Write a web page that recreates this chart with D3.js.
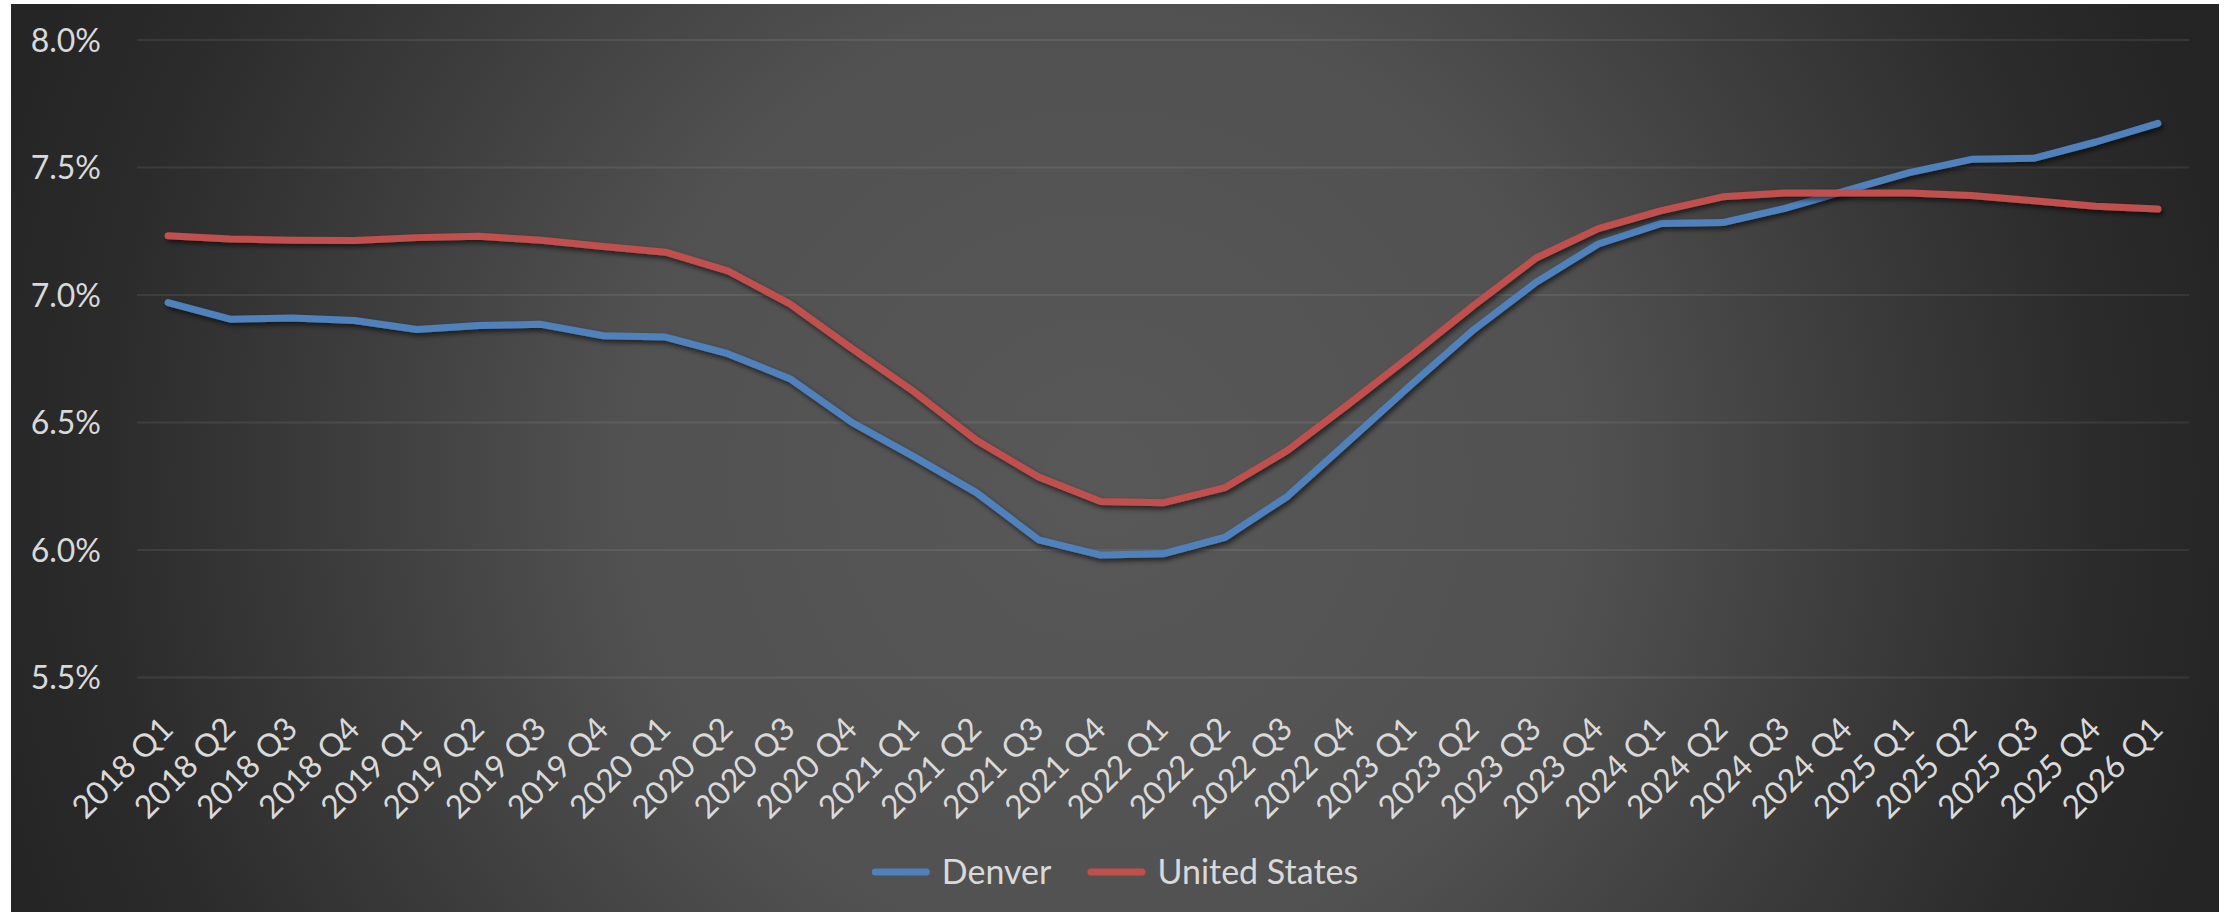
<!DOCTYPE html>
<html>
<head>
<meta charset="utf-8">
<script src="https://cdn.jsdelivr.net/npm/d3@7/dist/d3.min.js"></script>
<style>
  html, body { margin: 0; padding: 0; background: #ffffff; }
  svg { display: block; }
  text { font-family: Lato, "Open Sans", sans-serif; fill: #d9d9d9; }
</style>
</head>
<body>
<svg id="chart" width="2234" height="912"></svg>
<script>
const categories = [
  "2018 Q1","2018 Q2","2018 Q3","2018 Q4",
  "2019 Q1","2019 Q2","2019 Q3","2019 Q4",
  "2020 Q1","2020 Q2","2020 Q3","2020 Q4",
  "2021 Q1","2021 Q2","2021 Q3","2021 Q4",
  "2022 Q1","2022 Q2","2022 Q3","2022 Q4",
  "2023 Q1","2023 Q2","2023 Q3","2023 Q4",
  "2024 Q1","2024 Q2","2024 Q3","2024 Q4",
  "2025 Q1","2025 Q2","2025 Q3","2025 Q4",
  "2026 Q1"
];
const denver = [
  6.97, 6.905, 6.91, 6.90,
  6.865, 6.88, 6.885, 6.84,
  6.835, 6.77, 6.672, 6.50,
  6.365, 6.225, 6.04, 5.98,
  5.985, 6.05, 6.21, 6.43,
  6.65, 6.865, 7.05, 7.20,
  7.28, 7.284, 7.34, 7.41,
  7.48, 7.532, 7.536, 7.60,
  7.673
];
const unitedStates = [
  7.232, 7.22, 7.215, 7.214,
  7.225, 7.23, 7.215, 7.19,
  7.168, 7.095, 6.965, 6.79,
  6.62, 6.43, 6.286, 6.19,
  6.185, 6.245, 6.39, 6.575,
  6.765, 6.96, 7.145, 7.26,
  7.33, 7.385, 7.40, 7.40,
  7.40, 7.39, 7.37, 7.348,
  7.337
];
const yTicks = [5.5, 6.0, 6.5, 7.0, 7.5, 8.0];
const seriesNames = ["Denver", "United States"];
const seriesColors = ["#4F81BD", "#C0504D"];

const svg = d3.select("#chart");
const defs = svg.append("defs");

// background radial gradient
const grad = defs.append("radialGradient")
  .attr("id", "bg").attr("gradientUnits", "userSpaceOnUse")
  .attr("cx", 1100).attr("cy", 480).attr("r", 1150);
[[0, "#585858"], [0.42, "#515151"], [0.7, "#393939"], [0.87, "#2b2b2b"], [1, "#252525"]]
  .forEach(([o, c]) => grad.append("stop").attr("offset", o).attr("stop-color", c));

const shadow = defs.append("filter").attr("id", "shadow")
  .attr("x", "-5%").attr("y", "-20%").attr("width", "110%").attr("height", "140%");
shadow.append("feDropShadow").attr("dx", 2).attr("dy", 3).attr("stdDeviation", 2.5)
  .attr("flood-color", "#000").attr("flood-opacity", 0.6);

svg.append("rect").attr("x", 11).attr("y", 4).attr("width", 2208).attr("height", 908)
  .attr("fill", "url(#bg)");

const x = d3.scalePoint().domain(categories).range([137, 2189]).padding(0.5);
const y = d3.scaleLinear().domain([5.5, 8.0]).range([677.5, 40]);

// gridlines
svg.append("g").selectAll("line").data(yTicks).join("line")
  .attr("x1", 137).attr("x2", 2189)
  .attr("y1", d => y(d)).attr("y2", d => y(d))
  .attr("stroke", "rgba(255,255,255,0.08)").attr("stroke-width", 2);

// y labels
svg.append("g").selectAll("text").data(yTicks).join("text")
  .attr("x", 101).attr("y", d => y(d)).attr("dy", "0.36em")
  .attr("text-anchor", "end").attr("font-size", 32)
  .text(d => d3.format(".1f")(d) + "%");

// x labels
svg.append("g").selectAll("text").data(categories).join("text")
  .attr("text-anchor", "end").attr("font-size", 32)
  .attr("transform", d => `translate(${x(d) + 7},${731}) rotate(-45)`)
  .text(d => d);

// lines
const line = d3.line().x((d, i) => x(categories[i])).y(d => y(d));
const seriesData = [denver, unitedStates];
svg.append("g").selectAll("path").data(seriesData).join("path")
  .attr("d", d => line(d))
  .attr("fill", "none")
  .attr("stroke", (d, i) => seriesColors[i])
  .attr("stroke-width", 7)
  .attr("stroke-linecap", "round")
  .attr("stroke-linejoin", "round")
  .attr("filter", "url(#shadow)");

// legend
const legend = svg.append("g");
const items = legend.selectAll("g").data(seriesNames).join("g");
items.append("line").attr("x1", 3.5).attr("x2", 54.5).attr("y1", 0).attr("y2", 0)
  .attr("stroke", (d, i) => seriesColors[i]).attr("stroke-width", 7).attr("stroke-linecap", "round");
items.append("text").attr("x", 70).attr("y", 0).attr("dy", "0.36em")
  .attr("font-size", 34).text(d => d);
let cursor = 0;
items.each(function () {
  const g = d3.select(this);
  g.attr("transform", `translate(${cursor},0)`);
  const w = 70 + g.select("text").node().getComputedTextLength();
  cursor += w + 36;
});
const totalW = cursor - 36;
legend.attr("transform", `translate(${1115 - totalW / 2},${872})`);
</script>
</body>
</html>
